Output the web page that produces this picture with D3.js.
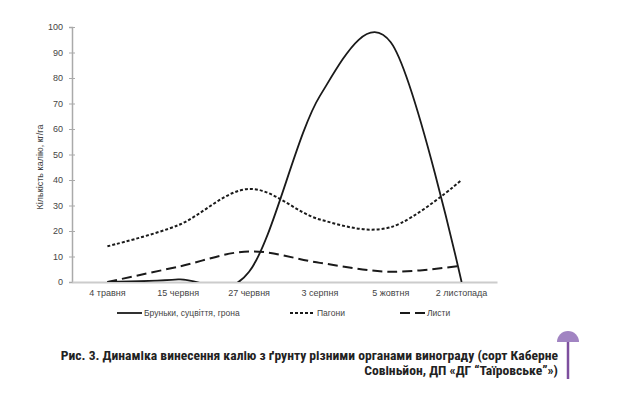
<!DOCTYPE html>
<html>
<head>
<meta charset="utf-8">
<script src="https://cdn.jsdelivr.net/npm/d3@7"></script>
<style>
  body { margin: 0; background: #fff; }
  svg { display: block; }
</style>
</head>
<body>
<svg width="624" height="393"></svg>
<script>
const dates = ["4 травня", "15 червня", "27 червня", "3 серпня", "5 жовтня", "2 листопада"];
const buds = [0, 1, 4, 73, 94, 0];
const shoots = [14, 22.3, 36.5, 24.5, 21.5, 40];
const leaves = [0, 6, 12, 7.5, 4, 6.4];
const yTicks = [0, 10, 20, 30, 40, 50, 60, 70, 80, 90, 100];
const seriesNames = ["Бруньки, суцвіття, грона", "Пагони", "Листи"];

const margin = {"top": 27, "right": 127, "bottom": 111, "left": 72};
const width = 624 - margin.left - margin.right;
const height = 393 - margin.top - margin.bottom;

let svg = d3.select('svg');

let x = d3.scaleBand()
	.domain(dates)
	.range([0, width]);

let y = d3.scaleLinear()
	.domain([0, 100])
	.range([height, 0]);

let chart = svg.append('g')
	.attr('transform', 'translate(' + margin.left + ',' + margin.top + ')');

// clip so the smoothed curve never goes under the zero line
chart.append('clipPath')
	.attr('id', 'plot-clip')
	.append('rect')
	.attr('x', 0)
	.attr('y', -5)
	.attr('width', width)
	.attr('height', height + 5);

// y axis
let yAxis = chart.append('g')
	.call(d3.axisLeft(y).tickValues(yTicks).tickSize(3).tickPadding(6));
yAxis.select('.domain').attr('stroke', '#aaa').attr('stroke-width', 1.5);
yAxis.selectAll('.tick line').attr('stroke', '#aaa').attr('x2', 3).attr('x1', -3);
yAxis.selectAll('.tick text')
	.attr('fill', '#444')
	.style('font-family', 'Liberation Sans, Arial, sans-serif')
	.style('font-size', '9px');

// x axis
let xAxis = chart.append('g')
	.attr('transform', 'translate(0,' + height + ')')
	.call(d3.axisBottom(x).tickSize(0).tickPadding(8));
xAxis.select('.domain').attr('stroke', '#ccc').attr('stroke-width', 2);
xAxis.selectAll('.tick text')
	.attr('fill', '#444')
	.style('font-family', 'Liberation Sans, Arial, sans-serif')
	.style('font-size', '9px');

// y label
svg.append('text')
	.attr('transform', 'translate(43,167) rotate(-90)')
	.attr('text-anchor', 'middle')
	.attr('fill', '#444')
	.style('font-family', 'Liberation Sans, Arial, sans-serif')
	.style('font-size', '9px')
	.text('Кількість калію, кг/га');

let line = d3.line()
	.x(function(d, i){ return x(dates[i]) + x.bandwidth() / 2; })
	.y(function(d){ return y(d); })
	.curve(d3.curveCatmullRom.alpha(0));

const styles = [
	{"data": buds, "dash": null, "width": 1.8},
	{"data": shoots, "dash": "3,2", "width": 2},
	{"data": leaves, "dash": "10,5", "width": 2}
];

let lines = chart.append('g').attr('clip-path', 'url(#plot-clip)');
styles.forEach(function(s){
	lines.append('path')
		.attr('d', line(s.data))
		.attr('fill', 'none')
		.attr('stroke', '#1a1a1a')
		.attr('stroke-width', s.width)
		.attr('stroke-dasharray', s.dash);
});

// legend
const legendX = [117, 290, 400];
let legend = svg.append('g').attr('transform', 'translate(0,313)');
styles.forEach(function(s, i){
	let item = legend.append('g').attr('transform', 'translate(' + legendX[i] + ',0)');
	item.append('line')
		.attr('x1', 0).attr('x2', 25)
		.attr('stroke', '#1a1a1a')
		.attr('stroke-width', 1.8)
		.attr('stroke-dasharray', s.dash);
	item.append('text')
		.attr('x', 27)
		.attr('dy', '0.35em')
		.attr('fill', '#444')
		.style('font-family', 'Liberation Sans, Arial, sans-serif')
		.style('font-size', '8.5px')
		.text(seriesNames[i]);
});

// caption
const captionLines = [
	"Рис. 3. Динаміка винесення калію з ґрунту різними органами винограду (сорт Каберне",
	"Совіньйон, ДП «ДГ “Таїровське”»)"
];
svg.selectAll('text.caption')
	.data(captionLines)
	.enter()
	.append('text')
	.classed('caption', true)
	.attr('x', 558)
	.attr('y', function(d, i){ return 360 + i * 14.5; })
	.attr('text-anchor', 'end')
	.attr('fill', '#222')
	.style('font-family', '"Liberation Sans Narrow", "Roboto Condensed", Roboto, sans-serif')
	.style('font-weight', 'bold')
	.style('font-size', '13.6px')
	.text(function(d){ return d; });

// purple marker
svg.append('path')
	.attr('d', d3.arc()({innerRadius: 0, outerRadius: 11, startAngle: -Math.PI / 2, endAngle: Math.PI / 2}))
	.attr('transform', 'translate(568,342)')
	.attr('fill', '#a184c2');
svg.append('line')
	.attr('x1', 568).attr('x2', 568)
	.attr('y1', 342).attr('y2', 379)
	.attr('stroke', '#7d4f9e')
	.attr('stroke-width', 2.5);
</script>
</body>
</html>
